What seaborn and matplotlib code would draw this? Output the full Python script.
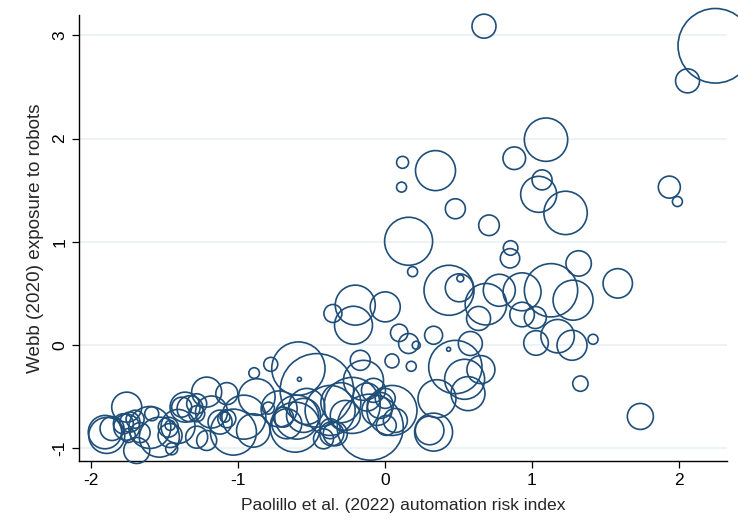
import numpy as np
import pandas as pd
import matplotlib
matplotlib.use("Agg")
import matplotlib.pyplot as plt
import seaborn as sns

# Paolillo et al. (2022) automation risk index
risk_index = [
    0.674, 2.248, 2.059, 1.096, 0.880, 0.120, 0.344, 0.113, 1.069, 1.046,
    1.229, 0.479, 1.935, 1.990, 0.708, 0.161, 0.855, 0.851, 1.318, 0.188,
    1.584, 1.416, 1.330, 1.738, 1.130, 1.280, 0.933, 0.778, 0.687, 0.637,
    0.506, 0.513, 0.436, 0.933, 1.023, 1.175, 1.273, 1.028, 0.581, 0.433,
    0.479, 0.653, 0.542, 0.565, 0.354, 0.331, 0.304,
    0.331, 0.179, 0.213, 0.161, 0.097, 0.048, 0.002, -0.202, -0.214, -0.354,
    -0.168, -0.146, -0.100, 0.048, -0.078, -0.123, -0.032, 0.002, -0.055, -0.270,
    -0.338, 0.009, 0.071, -0.223,
    -0.589, -0.463, -0.582, -0.777, -0.890, -0.872, -0.793, -0.896, -1.076, -1.031,
    -0.554, -0.532, -0.600, -0.611, -0.373, -0.418, -0.362, -0.691, -0.668, -0.373,
    -1.905, -1.893, -1.757, -1.780, -1.735, -1.746, -1.757, -1.689, -1.587, -1.535,
    -1.474, -1.462, -1.462, -1.451, -1.360, -1.383, -1.326, -1.281, -1.281, -1.213,
    -1.122, -1.281, -1.213, -1.076, -1.408, -1.857, -1.666, -1.088,
    -1.700, -1.600, -1.180, -0.960, -0.720, -0.300,
]

# Webb (2020) exposure to robots
robot_exposure = [
    3.090, 2.900, 2.560, 1.990, 1.810, 1.770, 1.690, 1.530, 1.600, 1.460,
    1.280, 1.320, 1.530, 1.390, 1.160, 1.005, 0.940, 0.840, 0.790, 0.710,
    0.597, 0.055, -0.375, -0.693, 0.530, 0.434, 0.515, 0.530, 0.395, 0.257,
    0.554, 0.645, 0.530, 0.295, 0.266, 0.085, -0.003, 0.019, 0.014, -0.042,
    -0.214, -0.239, -0.333, -0.472, -0.521, -0.845, -0.829,
    0.094, -0.207, -0.003, 0.014, 0.117, -0.155, 0.369, 0.386, 0.191, 0.305,
    -0.149, -0.343, -0.797, -0.635, -0.440, -0.505, -0.586, -0.518, -0.635, -0.683,
    -0.861, -0.780, -0.732, -0.586,
    -0.229, -0.440, -0.333, -0.188, -0.272, -0.505, -0.612, -0.829, -0.472, -0.845,
    -0.683, -0.596, -0.700, -0.797, -0.812, -0.910, -0.861, -0.700, -0.764, -0.635,
    -0.845, -0.877, -0.603, -0.764, -0.748, -0.878, -0.797, -1.023, -0.667, -0.894,
    -0.797, -0.780, -0.878, -1.007, -0.603, -0.603, -0.618, -0.570, -0.667, -0.457,
    -0.748, -0.894, -0.926, -0.715, -0.790, -0.810, -0.850, -0.700,
    -0.720, -0.800, -0.650, -0.700, -0.620, -0.560,
]

# Employment weight of each occupation (marker area)
employment = [
    1.44, 13.9, 1.44, 4.70, 1.28, 0.36, 4.00, 0.25, 1.00, 3.24,
    4.70, 1.00, 1.21, 0.25, 1.06, 5.76, 0.53, 0.94, 1.61, 0.25,
    2.16, 0.25, 0.59, 1.69, 7.10, 4.00, 3.60, 2.56, 4.30, 1.44,
    1.96, 0.12, 6.25, 1.51, 1.21, 2.79, 2.25, 1.51, 1.44, 0.04,
    7.10, 1.96, 4.00, 2.89, 3.60, 3.60, 2.05,
    0.81, 0.25, 0.16, 1.00, 0.76, 0.49, 2.25, 4.00, 3.60, 0.81,
    1.00, 4.00, 10.9, 6.25, 1.44, 1.96, 1.69, 1.00, 2.25, 2.25,
    1.44, 1.00, 1.44, 7.84,
    7.10, 13.5, 0.04, 0.49, 0.28, 3.35, 0.36, 2.79, 1.21, 5.29,
    2.89, 3.24, 4.84, 6.25, 1.00, 1.00, 1.44, 1.00, 2.25, 6.25,
    2.79, 3.24, 2.25, 1.00, 1.00, 0.49, 1.69, 1.69, 0.49, 4.00,
    1.00, 0.25, 1.44, 0.36, 2.25, 1.00, 1.69, 1.00, 0.64, 2.25,
    1.44, 1.21, 1.00, 0.81, 2.89, 1.44, 1.00, 0.25,
    0.81, 4.41, 2.56, 4.84, 3.24, 4.00,
]

x_ticks = [-2, -1, 0, 1, 2]
y_ticks = [-1, 0, 1, 2, 3]
x_label = "Paolillo et al. (2022) automation risk index"
y_label = "Webb (2020) exposure to robots"

df = pd.DataFrame({"risk": risk_index, "robots": robot_exposure, "emp": employment})

sns.set_style("white")
plt.rcParams["font.family"] = ["Liberation Sans", "DejaVu Sans"]

fig = plt.figure(figsize=(7.38, 5.30), dpi=100)
ax = fig.add_axes([0.107, 0.130, 0.878, 0.842])

wmax = max(employment)
k = 207.36  # area scale
sns.scatterplot(
    data=df, x="risk", y="robots", size="emp",
    sizes=(0, k * wmax), size_norm=(0, wmax),
    facecolor="none", edgecolor="#1f4e79", linewidth=1.2,
    legend=False, ax=ax, clip_on=False, zorder=3,
)

ax.set_xlim(-2.082, 2.327)
ax.set_ylim(-1.126, 3.20)
ax.set_xticks(x_ticks)
ax.set_yticks(y_ticks)
ax.set_xticklabels([str(t) for t in x_ticks], fontsize=12.5)
ax.set_yticklabels([str(t) for t in y_ticks], fontsize=12.5, rotation=90, va="center")
ax.set_xlabel(x_label, fontsize=12.6, labelpad=7)
ax.set_ylabel(y_label, fontsize=13.6, labelpad=6)

for y in y_ticks:
    ax.axhline(y, color="#eaf1f3", lw=1.2, zorder=0)

for s in ["top", "right"]:
    ax.spines[s].set_visible(False)
for s in ["left", "bottom"]:
    ax.spines[s].set_color("black")
    ax.spines[s].set_linewidth(1.0)
ax.tick_params(axis="both", direction="out", length=5, width=0.9, color="black",
               labelcolor="black", bottom=True, left=True)

fig.savefig("out.png", dpi=100, facecolor="white")
